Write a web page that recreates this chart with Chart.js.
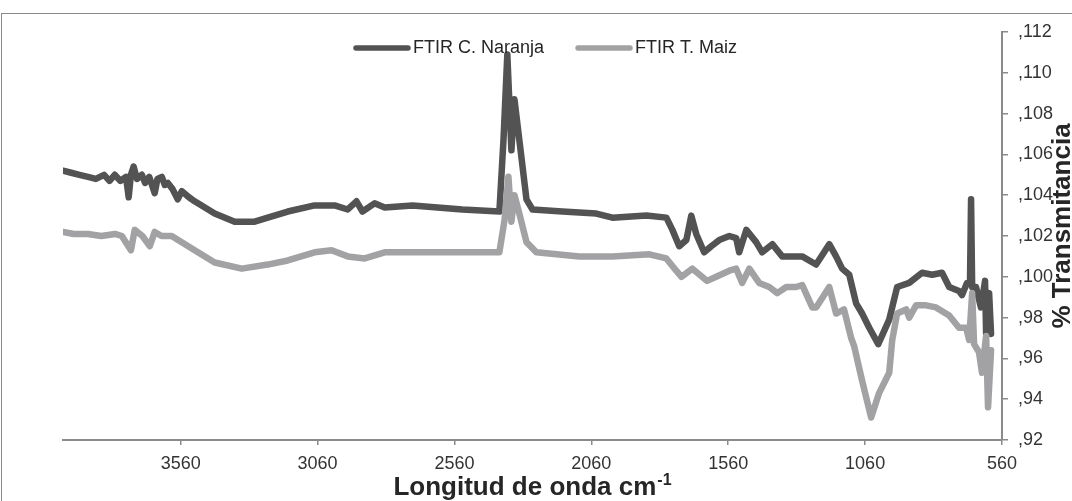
<!DOCTYPE html>
<html><head><meta charset="utf-8">
<script src="https://cdn.jsdelivr.net/npm/chart.js@4.4.1/dist/chart.umd.min.js"></script>
<style>html,body{margin:0;padding:0;background:#fff;overflow:hidden}canvas{display:block}</style>
</head><body>
<canvas id="c" width="1072" height="501"></canvas>
<script>
const seriesNames = ["FTIR C. Naranja", "FTIR T. Maiz"];

const naranjaX = [3990,3960,3930,3899,3870,3840,3820,3801,3780,3760,3750,3742,3732,3720,3702,3690,3675,3655,3645,3629,3618,3607,3590,3571,3556,3530,3509,3436,3363,3290,3242,3169,3071,2998,2950,2918,2896,2852,2815,2713,2531,2396,2381,2367,2352,2341,2323,2297,2275,2166,2042,1983,1859,1786,1764,1739,1713,1695,1677,1648,1622,1593,1556,1531,1520,1494,1458,1436,1399,1363,1290,1239,1191,1166,1144,1118,1093,1071,1045,1012,972,943,899,852,815,779,753,717,706,688,677,673,669,655,637,622,618,607,600];
const naranjaY = [1.052,1.051,1.050,1.049,1.048,1.050,1.047,1.050,1.047,1.049,1.039,1.050,1.054,1.048,1.050,1.046,1.049,1.041,1.048,1.049,1.045,1.046,1.043,1.038,1.042,1.039,1.037,1.031,1.027,1.027,1.029,1.032,1.035,1.035,1.033,1.037,1.032,1.036,1.034,1.035,1.033,1.032,1.067,1.109,1.062,1.087,1.067,1.038,1.033,1.032,1.031,1.029,1.030,1.029,1.023,1.015,1.018,1.030,1.021,1.012,1.015,1.018,1.020,1.019,1.012,1.023,1.017,1.012,1.016,1.010,1.010,1.006,1.016,1.010,1.004,1.001,0.987,0.982,0.975,0.967,0.979,0.995,0.997,1.002,1.001,1.002,0.995,0.993,0.991,0.997,0.997,1.038,0.995,0.995,0.985,0.998,0.972,0.992,0.972];

const maizX = [3990,3950,3899,3850,3800,3775,3742,3728,3700,3673,3655,3630,3593,3509,3436,3337,3242,3169,3071,3009,2950,2888,2815,2713,2531,2396,2377,2363,2352,2341,2323,2297,2261,2104,1983,1848,1786,1750,1731,1691,1637,1604,1556,1531,1509,1483,1447,1410,1381,1348,1312,1290,1253,1239,1191,1166,1137,1111,1100,1071,1038,1009,972,961,943,910,899,874,837,801,753,717,691,680,669,662,644,633,618,611,600];
const maizY = [1.022,1.021,1.021,1.020,1.021,1.020,1.013,1.023,1.020,1.015,1.022,1.020,1.020,1.013,1.007,1.004,1.006,1.008,1.012,1.013,1.010,1.009,1.012,1.012,1.012,1.012,1.028,1.049,1.027,1.040,1.031,1.017,1.012,1.010,1.010,1.011,1.009,1.003,1.000,1.004,0.998,1.000,1.003,1.004,0.997,1.004,0.997,0.995,0.992,0.995,0.995,0.996,0.985,0.985,0.995,0.982,0.984,0.970,0.966,0.949,0.931,0.943,0.953,0.969,0.982,0.984,0.980,0.986,0.986,0.985,0.981,0.975,0.975,0.969,0.992,0.967,0.963,0.953,0.971,0.936,0.964];

const xTicks = [3560, 3060, 2560, 2060, 1560, 1060, 560];
const xTickLabels = ["3560", "3060", "2560", "2060", "1560", "1060", "560"];
const yTicks = [0.92, 0.94, 0.96, 0.98, 1.00, 1.02, 1.04, 1.06, 1.08, 1.10, 1.12];
const yTickLabels = [",92", ",94", ",96", ",98", ",100", ",102", ",104", ",106", ",108", ",110", ",112"];

const xTitle = "Longitud de onda cm";
const xTitleSup = "-1";
const yTitle = "% Transmitancia";

const FONT = "'Liberation Sans', Arial, sans-serif";
const DARK = '#535353';
const LIGHT = '#a2a2a5';
const AXIS = '#8a8a8a';

function pts(xs, ys) { return xs.map((x, i) => ({ x: x, y: ys[i] })); }

const decor = {
  id: 'decor',
  beforeDraw(chart) {
    const ctx = chart.ctx;
    ctx.save();
    ctx.fillStyle = '#fff';
    ctx.fillRect(0, 0, chart.width, chart.height);
    ctx.strokeStyle = AXIS;
    ctx.lineWidth = 1;
    ctx.strokeRect(1.5, 13.5, 1200, 600);
    ctx.restore();
  },
  afterDraw(chart) {
    const ctx = chart.ctx, a = chart.chartArea;
    ctx.save();
    ctx.fillStyle = '#262626';
    ctx.textBaseline = 'alphabetic';
    ctx.textAlign = 'left';
    ctx.font = `bold 26px ${FONT}`;
    const w1 = ctx.measureText(xTitle).width;
    ctx.font = `bold 16px ${FONT}`;
    const w2 = ctx.measureText(xTitleSup).width;
    const cx = (a.left + a.right) / 2;
    const sx = cx - (w1 + w2 + 1) / 2;
    ctx.font = `bold 26px ${FONT}`;
    ctx.fillText(xTitle, sx, 495);
    ctx.font = `bold 16px ${FONT}`;
    ctx.fillText(xTitleSup, sx + w1 + 1, 485);
    ctx.restore();

    ctx.save();
    ctx.fillStyle = '#262626';
    ctx.translate(1070, 226);
    ctx.rotate(-Math.PI / 2);
    ctx.font = `bold 26px ${FONT}`;
    ctx.textAlign = 'center';
    ctx.textBaseline = 'alphabetic';
    ctx.fillText(yTitle, 0, 0);
    ctx.restore();

    // legend
    ctx.save();
    ctx.font = `18px ${FONT}`;
    ctx.textBaseline = 'middle';
    ctx.textAlign = 'left';
    let lx = 353;
    const ly = 48;
    chart.data.datasets.slice().sort((p, q) => p.legendIndex - q.legendIndex).forEach(ds => {
      ctx.strokeStyle = ds.borderColor;
      ctx.lineWidth = 5.5;
      ctx.lineCap = 'round';
      ctx.beginPath();
      ctx.moveTo(lx + 3, ly);
      ctx.lineTo(lx + 55, ly);
      ctx.stroke();
      ctx.fillStyle = '#262626';
      ctx.fillText(ds.label, lx + 60, ly);
      lx += 60 + ctx.measureText(ds.label).width + 31;
    });
    ctx.restore();
  }
};

new Chart(document.getElementById('c'), {
  type: 'line',
  data: {
    datasets: [
      { label: seriesNames[0], legendIndex: 0, data: pts(naranjaX, naranjaY), borderColor: DARK, backgroundColor: DARK, borderWidth: 6.5, pointRadius: 0, tension: 0, order: 2, borderJoinStyle: 'round', borderCapStyle: 'round' },
      { label: seriesNames[1], legendIndex: 1, data: pts(maizX, maizY), borderColor: LIGHT, backgroundColor: LIGHT, borderWidth: 6.5, pointRadius: 0, tension: 0, order: 1, borderJoinStyle: 'round', borderCapStyle: 'round' }
    ]
  },
  options: {
    responsive: false,
    animation: false,
    devicePixelRatio: 1,
    layout: { padding: { left: 63, top: 32, right: 0, bottom: 0 } },
    plugins: { legend: { display: false }, tooltip: { enabled: false } },
    scales: {
      x: {
        type: 'linear', reverse: true, min: 560, max: 3990,
        afterBuildTicks: s => { s.ticks = xTicks.map(v => ({ value: v })); },
        afterFit: s => { s.height = 61; },
        grid: { display: true, drawOnChartArea: false, drawTicks: true, tickLength: 5, color: AXIS, lineWidth: 1.5 },
        border: { display: true, color: AXIS, width: 2 },
        ticks: {
          font: { family: FONT, size: 18 }, color: '#333', maxRotation: 0, autoSkip: false, padding: 8,
          callback: v => { const i = xTicks.indexOf(v); return i >= 0 ? xTickLabels[i] : ''; }
        }
      },
      y: {
        type: 'linear', position: 'right', min: 0.92, max: 1.12,
        afterBuildTicks: s => { s.ticks = yTicks.map(v => ({ value: v })); },
        afterFit: s => { s.width = 70; },
        grid: { display: true, drawOnChartArea: false, drawTicks: true, tickLength: 6, color: AXIS, lineWidth: 1.5 },
        border: { display: true, color: AXIS, width: 2 },
        ticks: {
          font: { family: FONT, size: 18 }, color: '#333', padding: 10,
          callback: v => { const i = yTicks.findIndex(t => Math.abs(t - v) < 1e-6); return i >= 0 ? yTickLabels[i] : ''; }
        }
      }
    }
  },
  plugins: [decor]
});
</script>
</body></html>
